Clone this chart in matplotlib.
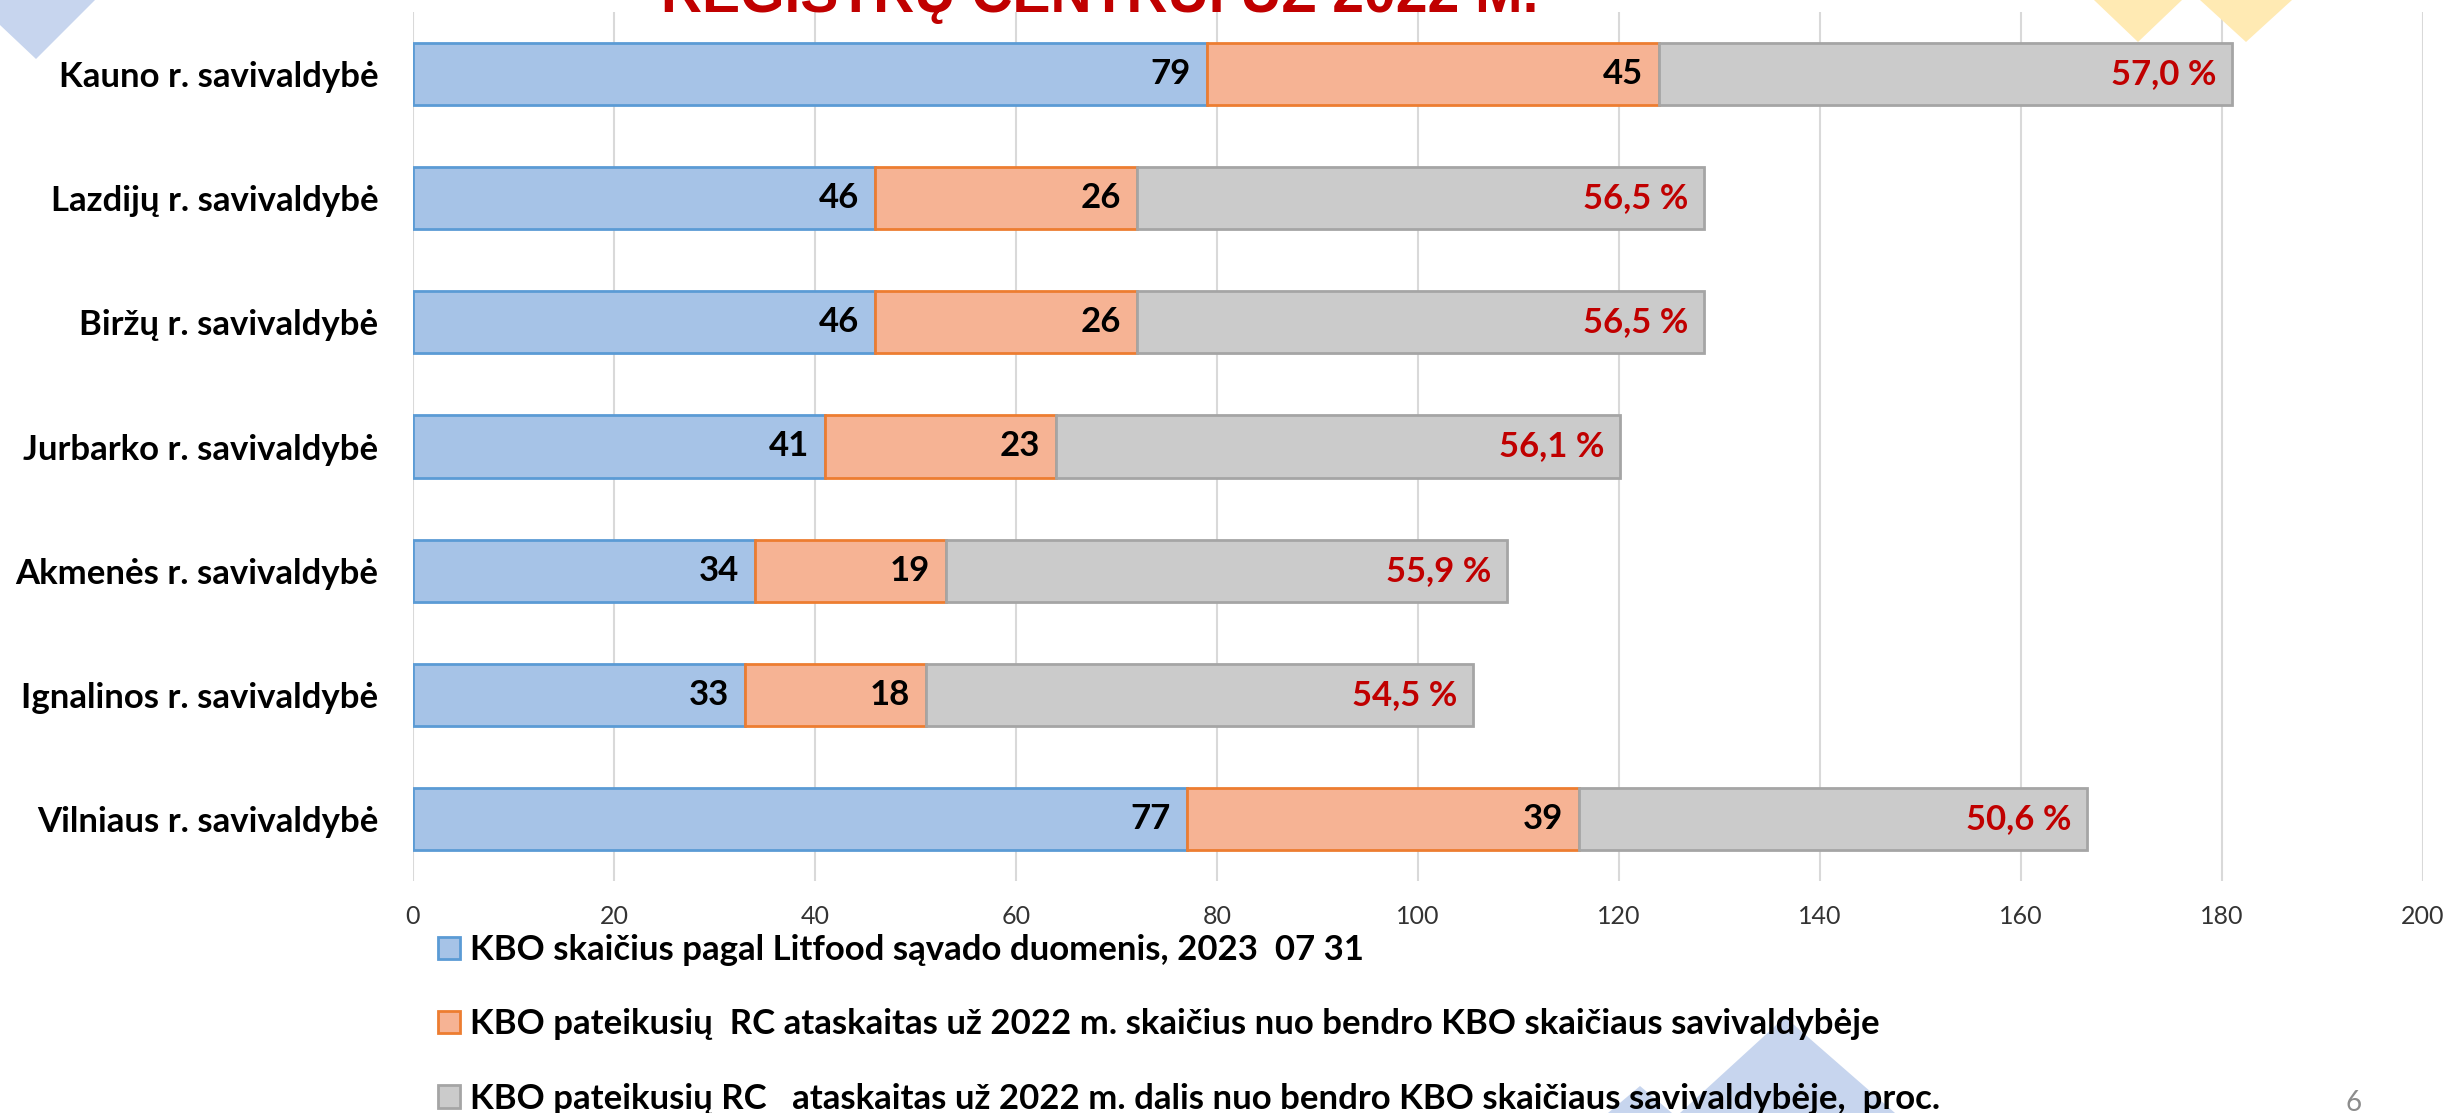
import matplotlib.pyplot as plt
from matplotlib.patches import Polygon

# data, top row first
savivaldybes = ["Kauno r. savivaldybė", "Lazdijų r. savivaldybė", "Biržų r. savivaldybė",
                "Jurbarko r. savivaldybė", "Akmenės r. savivaldybė", "Ignalinos r. savivaldybė",
                "Vilniaus r. savivaldybė"]
kbo_viso = [79, 46, 46, 41, 34, 33, 77]
kbo_pateike = [45, 26, 26, 23, 19, 18, 39]
dalis_proc = [57.0, 56.5, 56.5, 56.1, 55.9, 54.5, 50.6]
x_ticks = [0, 20, 40, 60, 80, 100, 120, 140, 160, 180, 200]

legend_labels = [
    "KBO skaičius pagal Litfood sąvado duomenis, 2023  07 31",
    "KBO pateikusių  RC ataskaitas už 2022 m. skaičius nuo bendro KBO skaičiaus savivaldybėje",
    "KBO pateikusių RC   ataskaitas už 2022 m. dalis nuo bendro KBO skaičiaus savivaldybėje,  proc.",
]
title = "REGISTRŲ CENTRUI UŽ 2022 M."

plt.rcParams['font.family'] = ['Lato', 'DejaVu Sans']

W, H = 2453, 1113
fig = plt.figure(figsize=(W / 100, H / 100), dpi=100)

# decorative slide shapes (pixel coords from the top-left)
def px_poly(pts, color):
    p = Polygon([(x / W, 1 - y / H) for x, y in pts], closed=True,
                transform=fig.transFigure, color=color, lw=0, zorder=0)
    fig.patches.append(p)

px_poly([(0, 0), (95, 0), (36, 59), (0, 25)], '#C7D5EE')
px_poly([(2094, 0), (2182, 0), (2138, 42)], '#FFEAB3')
px_poly([(2200, 0), (2292, 0), (2246, 42)], '#FFEAB3')
px_poly([(1680, 1113), (1785, 1017), (1895, 1113)], '#C7D5EE')
px_poly([(1608, 1113), (1640, 1086), (1672, 1113)], '#C7D5EE')

ax = fig.add_axes([413 / W, 1 - 881 / H, 2010 / W, 869 / H])
ax.patch.set_alpha(0)

y = list(range(len(savivaldybes)))[::-1]
left2 = kbo_viso
left3 = [a + b for a, b in zip(kbo_viso, kbo_pateike)]

b1 = ax.barh(y, kbo_viso, height=0.5, color='#A6C3E7', edgecolor='#5B9BD5', lw=2, label=legend_labels[0])
b2 = ax.barh(y, kbo_pateike, left=left2, height=0.5, color='#F6B394', edgecolor='#ED7D31', lw=2, label=legend_labels[1])
b3 = ax.barh(y, dalis_proc, left=left3, height=0.5, color='#CBCBCB', edgecolor='#A5A5A5', lw=2, label=legend_labels[2])

for i in range(len(y)):
    ax.annotate(str(kbo_viso[i]), (kbo_viso[i], y[i]), xytext=(-16, 0), textcoords='offset pixels',
                ha='right', va='center', fontsize=25, fontweight='bold', color='black')
    ax.annotate(str(kbo_pateike[i]), (left3[i], y[i]), xytext=(-16, 0), textcoords='offset pixels',
                ha='right', va='center', fontsize=25, fontweight='bold', color='black')
    ax.annotate(f"{dalis_proc[i]:.1f}".replace('.', ',') + " %", (left3[i] + dalis_proc[i], y[i]),
                xytext=(-16, 0), textcoords='offset pixels',
                ha='right', va='center', fontsize=25, fontweight='bold', color='#C00000')

ax.set_xlim(0, 200)
ax.set_ylim(-0.5, 6.5)
ax.set_xticks(x_ticks)
ax.set_yticks(y)
ax.set_yticklabels(savivaldybes, fontsize=25, fontweight='bold')
ax.tick_params(axis='y', length=0, pad=25)
ax.tick_params(axis='x', length=0, pad=17, labelsize=18, labelcolor='#333333')
ax.grid(axis='x', color='#D9D9D9', lw=1.5)
ax.set_axisbelow(True)
for s in ax.spines.values():
    s.set_visible(False)

fig.legend(handles=[b1, b2, b3], loc='upper left', bbox_to_anchor=(438 / W, 1 - 934 / H),
           frameon=False, borderpad=0, borderaxespad=0, handlelength=0.62, handleheight=0.62,
           handletextpad=0.3, labelspacing=1.22, prop={'size': 25, 'weight': 'bold'})

fig.text(1100 / W, 1 - 12 / H, title, ha='center', va='baseline', fontsize=41,
         fontweight='bold', color='#C00000', family='Liberation Sans')
fig.text(2354 / W, 1 - 1103 / H, "6", ha='center', va='center', fontsize=20, color='#8C8C8C')

fig.savefig("out.png", dpi=100)
